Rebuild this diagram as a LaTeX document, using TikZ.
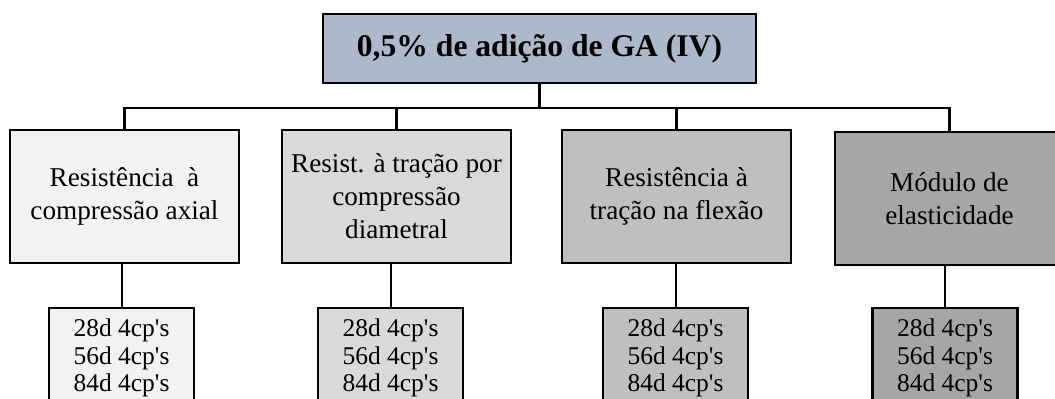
\documentclass[tikz,border=0pt]{standalone}
\usepackage{fontspec}
\setmainfont{Liberation Serif}
\usetikzlibrary{positioning}
\definecolor{azulcinza}{HTML}{ADB9CA}
\definecolor{cinzaA}{HTML}{F2F2F2}
\definecolor{cinzaB}{HTML}{D9D9D9}
\definecolor{cinzaC}{HTML}{BFBFBF}
\definecolor{cinzaD}{HTML}{A6A6A6}
\tikzset{
  raiz/.style = {draw=black, fill=azulcinza, line width=1.2pt,
    minimum width=216.5pt, minimum height=34.5pt, inner sep=0pt,
    font=\fontsize{15.8}{19}\selectfont\bfseries},
  ens/.style = {draw=black, line width=1.2pt, minimum width=114.5pt,
    minimum height=66.5pt, inner sep=1pt, align=center,
    font=\fontsize{13.6}{16.5}\selectfont},
  idd/.style = {draw=black, line width=1.2pt, minimum width=72.5pt,
    minimum height=50pt, inner sep=1pt, align=center,
    font=\fontsize{12.75}{13.8}\selectfont},
  lig/.style = {draw=black, line width=1.3pt},
  ligf/.style = {draw=black, line width=1pt}
}
\newcommand{\idades}{\cps{28}\\ \cps{56}\\ \cps{84}}
\newcommand{\cps}[1]{#1d 4cp\textquotesingle s}

\begin{document}
\begin{tikzpicture}[x=0.5pt, y=0.5pt]
  \clip (0,0) rectangle (1055,399);
  \node [raiz] (r) at (539.5,350.5) {0,5\% de adição de GA (IV)};
  % ensaios
  \node [ens, fill=cinzaA] (m1) at (124.5,202.5) {Resistência~ à\\compressão axial};
  \node [ens, fill=cinzaB] (m2) at (396.5,202.5) {Resist. à tração por\\compressão\\diametral};
  \node [ens, fill=cinzaC] (m3) at (676.5,202.5) {Resistência à\\tração na flexão};
  \node [ens, fill=cinzaD] (m4) at (949.5,200.5) {Módulo de\\elasticidade};
  % idades
  \node [idd, fill=cinzaA] (b1) at (121.5,41) {\idades};
  \node [idd, fill=cinzaB] (b2) at (390.5,41) {\idades};
  \node [idd, fill=cinzaC] (b3) at (675.5,41) {\idades};
  \node [idd, fill=cinzaD] (b4) at (945,41) {\idades};
  \coordinate (j) at (539.5,291);
  \draw [lig] (r.south) -- (j);
  \foreach \i in {1,...,4} {
    \draw [lig] (j) -| (m\i.north);
    \draw [ligf] (m\i.south -| b\i.north) -- (b\i.north);
  }
\end{tikzpicture}
\end{document}
